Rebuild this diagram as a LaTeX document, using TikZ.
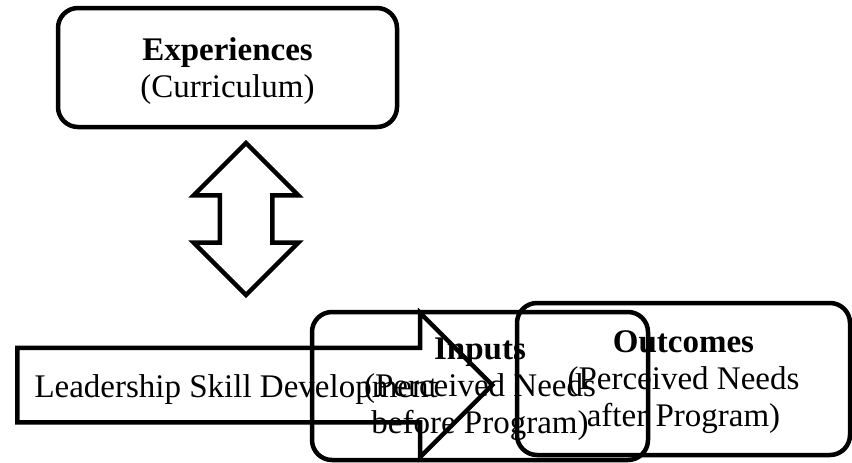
\documentclass[tikz,border=0pt]{standalone}
\usepackage{fontspec}
\setmainfont{Liberation Serif}
\usetikzlibrary{positioning,shapes.arrows}

\begin{document}
\begin{tikzpicture}[x=1pt, y=-1pt,
					% style for the rounded boxes
					stage/.style={
						draw=black,
						line width=4.5pt,
						rounded corners=20pt,
						align=center,
						inner sep=0pt,
						text depth=0pt,
						font=\fontsize{33}{37}\selectfont
					},
					% style for the block arrows
					flow/.style={
						draw=black,
						line width=4.5pt,
						font=\fontsize{33}{37}\selectfont
					}
					]
					\useasboundingbox (0,0) rectangle (852,463);
					
					% Experiences box at the top
					\node[stage, minimum width=339pt, minimum height=119pt] (exp) at (227.5,67.5)
						{\textbf{Experiences}\\(Curriculum)};
					
					% two-way arrow under it
					\node[flow, double arrow, rotate=90, double arrow head extend=26pt,
						minimum height=152pt, inner xsep=0pt, inner ysep=24pt] (link) at (246,219) {};
					
					% Inputs and Outcomes boxes (they overlap)
					\node[stage, minimum width=336pt, minimum height=148pt] (inp) at (480,386)
						{\textbf{Inputs}\\(Perceived Needs\\before Program)};
					\node[stage, minimum width=333pt, minimum height=152pt] (out) at (683.5,379)
						{\textbf{Outcomes}\\(Perceived Needs\\after Program)};
					
					% arrow into the Inputs box, tail at the left edge
					\node[flow, single arrow, single arrow head extend=35pt, minimum height=475pt,
						text height=27pt, text depth=3pt, inner ysep=20pt, inner xsep=0pt,
						anchor=tail] (lsd) at (15,385)
						{Leadership Skill Development};
				\end{tikzpicture}
\end{document}
